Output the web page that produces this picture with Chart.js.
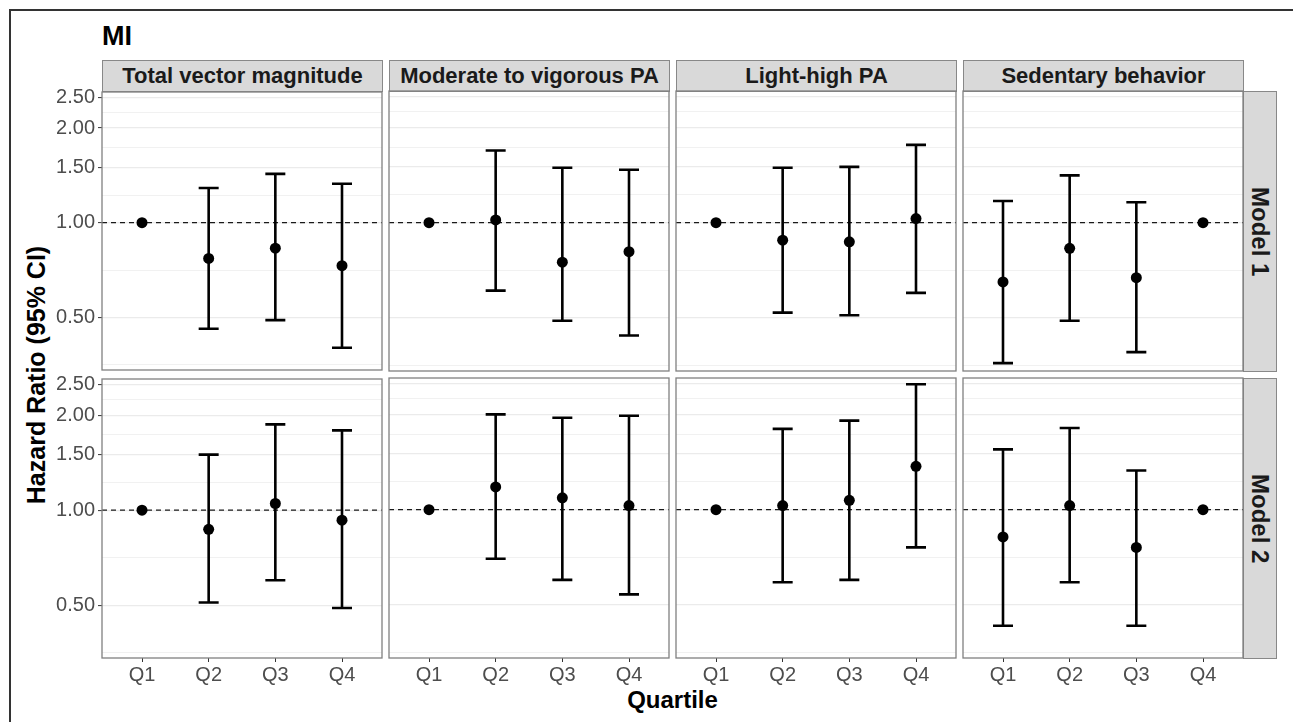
<!DOCTYPE html>
<html>
<head>
<meta charset="utf-8">
<script src="https://cdn.jsdelivr.net/npm/chart.js@4.4.0/dist/chart.umd.min.js"></script>
<style>
body { margin: 0; background: #fff; }
#wrap { position: relative; width: 1293px; height: 722px; overflow: hidden; font-family: "Liberation Sans", Arial, sans-serif; }
.frame { position: absolute; left: 9px; top: 9px; width: 1400px; height: 900px; border-left: 2px solid #333; border-top: 2px solid #333; }
.strip { position: absolute; box-sizing: border-box; background: #d9d9d9; border: 1px solid #888; color: #1a1a1a; font-weight: bold; font-size: 22px; display: flex; align-items: center; justify-content: center; white-space: nowrap; }
.vstrip { writing-mode: vertical-rl; font-size: 24px; }
.title { position: absolute; font-weight: bold; color: #000; white-space: nowrap; }
canvas { position: absolute; }
</style>
</head>
<body>
<div id="wrap">
  <div class="frame"></div>
  <div class="title" style="left:102px;top:21px;font-size:27px;">MI</div>
  <div class="title" id="ytitle" style="font-size:25px;">Hazard Ratio (95% CI)</div>
  <div class="title" id="xtitle" style="font-size:24px;">Quartile</div>
</div>
<script>
// facets
const exposures = ['Total vector magnitude', 'Moderate to vigorous PA', 'Light-high PA', 'Sedentary behavior'];
const models = ['Model 1', 'Model 2'];
const quartiles = ['Q1', 'Q2', 'Q3', 'Q4'];
const yBreaks = [0.50, 1.00, 1.50, 2.00, 2.50];

// Model 1 (HR, lower CI, upper CI) - reference quartile has no CI
const m1TvmHr  = [1.00, 0.77, 0.83, 0.73];
const m1TvmLo  = [null, 0.46, 0.49, 0.40];
const m1TvmHi  = [null, 1.29, 1.43, 1.33];
const m1MvpaHr = [1.00, 1.02, 0.75, 0.81];
const m1MvpaLo = [null, 0.61, 0.49, 0.44];
const m1MvpaHi = [null, 1.69, 1.49, 1.47];
const m1LhpaHr = [1.00, 0.88, 0.87, 1.03];
const m1LhpaLo = [null, 0.52, 0.51, 0.60];
const m1LhpaHi = [null, 1.49, 1.50, 1.76];
const m1SbHr   = [0.65, 0.83, 0.67, 1.00];
const m1SbLo   = [0.36, 0.49, 0.39, null];
const m1SbHi   = [1.17, 1.41, 1.16, null];

// Model 2
const m2TvmHr  = [1.00, 0.87, 1.05, 0.93];
const m2TvmLo  = [null, 0.51, 0.60, 0.49];
const m2TvmHi  = [null, 1.50, 1.87, 1.79];
const m2MvpaHr = [1.00, 1.18, 1.09, 1.03];
const m2MvpaLo = [null, 0.70, 0.60, 0.54];
const m2MvpaHi = [null, 2.00, 1.95, 1.98];
const m2LhpaHr = [1.00, 1.03, 1.07, 1.37];
const m2LhpaLo = [null, 0.59, 0.60, 0.76];
const m2LhpaHi = [null, 1.80, 1.91, 2.49];
const m2SbHr   = [0.82, 1.03, 0.76, 1.00];
const m2SbLo   = [0.43, 0.59, 0.43, null];
const m2SbHi   = [1.55, 1.81, 1.33, null];

const panels = [
  [[m1TvmHr, m1TvmLo, m1TvmHi], [m1MvpaHr, m1MvpaLo, m1MvpaHi], [m1LhpaHr, m1LhpaLo, m1LhpaHi], [m1SbHr, m1SbLo, m1SbHi]],
  [[m2TvmHr, m2TvmLo, m2TvmHi], [m2MvpaHr, m2MvpaLo, m2MvpaHi], [m2LhpaHr, m2LhpaLo, m2LhpaHi], [m2SbHr, m2SbLo, m2SbHi]]
];

// layout
const colX = [102, 389, 676, 963];
const rowY = [91, 378];
const panelW = 280, panelH = 280;
const PAD = 14;
const FONT = "'Liberation Sans', Arial, sans-serif";

// minor grid lines sit halfway (on the log scale) between the breaks
const yMinor = [0.25].concat(yBreaks).slice(0, -1).map((b, i) => Math.sqrt(b * yBreaks[i]));
const yGrid = yMinor.concat(yBreaks).sort((a, b) => a - b);
const isBreak = v => yBreaks.some(b => Math.abs(b - v) < 1e-6);

const wrap = document.getElementById('wrap');

// strips
exposures.forEach((name, c) => {
  const d = document.createElement('div');
  d.className = 'strip';
  d.style.cssText = `left:${colX[c]}px;top:60px;width:${panelW + 1}px;height:32px;`;
  d.textContent = name;
  wrap.appendChild(d);
});
models.forEach((name, r) => {
  const d = document.createElement('div');
  d.className = 'strip vstrip';
  d.style.cssText = `left:1243px;top:${rowY[r]}px;width:34px;height:${panelH + 1}px;`;
  d.textContent = name;
  wrap.appendChild(d);
});

const yt = document.getElementById('ytitle');
yt.style.left = '36px';
yt.style.top = (rowY[0] + (rowY[1] + panelH - rowY[0]) / 2) + 'px';
yt.style.transform = 'translate(-50%, -50%) rotate(-90deg)';
const xt = document.getElementById('xtitle');
xt.style.left = (colX[0] + (colX[3] + panelW - colX[0]) / 2) + 'px';
xt.style.top = '700px';
xt.style.transform = 'translate(-50%, -50%)';

// error bars, the dashed HR = 1 line and the panel border
const errorBars = {
  id: 'errorBars',
  beforeDatasetsDraw(chart, args, opts) {
    const { ctx, chartArea: a, scales: { x, y } } = chart;
    ctx.save();
    const y1 = y.getPixelForValue(1);
    ctx.setLineDash([5, 4]);
    ctx.lineWidth = 1.2;
    ctx.strokeStyle = '#1a1a1a';
    ctx.beginPath();
    ctx.moveTo(a.left, y1);
    ctx.lineTo(a.right, y1);
    ctx.stroke();
    ctx.setLineDash([]);
    ctx.lineWidth = 2.6;
    ctx.strokeStyle = '#000';
    opts.lo.forEach((lo, i) => {
      const hi = opts.hi[i];
      if (lo == null || hi == null) return;
      const px = x.getPixelForValue(i + 1);
      const half = (x.getPixelForValue(i + 1.15) - x.getPixelForValue(i + 0.85)) / 2;
      const yl = y.getPixelForValue(lo), yh = y.getPixelForValue(hi);
      ctx.beginPath();
      ctx.moveTo(px, yl); ctx.lineTo(px, yh);
      ctx.moveTo(px - half, yl); ctx.lineTo(px + half, yl);
      ctx.moveTo(px - half, yh); ctx.lineTo(px + half, yh);
      ctx.stroke();
    });
    ctx.restore();
  },
  afterDraw(chart) {
    const { ctx, chartArea: a } = chart;
    ctx.save();
    ctx.strokeStyle = '#808080';
    ctx.lineWidth = 1.3;
    ctx.strokeRect(a.left, a.top, a.width, a.height);
    ctx.restore();
  }
};

function makePanel(r, c) {
  const [hr, lo, hi] = panels[r][c];
  const left = c === 0, bottom = r === panels.length - 1;
  const axisW = left ? 62 : 0, axisH = bottom ? 30 : 0;
  const w = axisW + panelW + 2 * PAD, h = panelH + axisH + 2 * PAD;
  const cv = document.createElement('canvas');
  cv.width = w; cv.height = h;
  cv.style.width = w + 'px'; cv.style.height = h + 'px';
  cv.style.left = (colX[c] - axisW - PAD) + 'px';
  cv.style.top = (rowY[r] - PAD) + 'px';
  wrap.appendChild(cv);

  new Chart(cv.getContext('2d'), {
    type: 'scatter',
    data: {
      datasets: [{
        data: hr.map((v, i) => ({ x: i + 1, y: v })),
        pointRadius: 5.5,
        pointHoverRadius: 5.5,
        backgroundColor: '#000',
        borderWidth: 0
      }]
    },
    options: {
      responsive: false,
      animation: false,
      events: [],
      layout: { padding: PAD },
      plugins: {
        legend: { display: false },
        tooltip: { enabled: false },
        errorBars: { lo: lo, hi: hi }
      },
      scales: {
        x: {
          type: 'linear',
          min: 0.4,
          max: 4.6,
          bounds: 'data',
          display: bottom,
          afterBuildTicks: s => { s.ticks = quartiles.map((q, i) => ({ value: i + 1 })); },
          afterFit: s => { s.height = axisH; },
          ticks: {
            callback: v => quartiles[Math.round(v) - 1],
            color: '#4d4d4d',
            font: { family: FONT, size: 20 },
            padding: 1,
            maxRotation: 0,
            autoSkip: false
          },
          grid: { drawOnChartArea: false, tickLength: 4, tickColor: '#333', tickWidth: 1 },
          border: { display: false }
        },
        y: {
          type: 'logarithmic',
          min: 0.34,
          max: 2.605,
          bounds: 'data',   // keep the exact limits, don't snap to generated ticks
          afterBuildTicks: s => { s.ticks = yGrid.map(v => ({ value: v })); },
          afterFit: s => { s.width = axisW; },
          ticks: {
            display: left,
            callback: v => isBreak(v) ? v.toFixed(2) : '',
            color: '#4d4d4d',
            font: { family: FONT, size: 20 },
            padding: 3,
            autoSkip: false
          },
          grid: {
            color: '#ebebeb',
            lineWidth: ctx => isBreak(ctx.tick.value) ? 1.2 : 0.7,
            drawTicks: left,
            tickLength: 4,
            tickColor: ctx => isBreak(ctx.tick.value) ? '#333' : 'rgba(0,0,0,0)',
            tickWidth: 1
          },
          border: { display: false }
        }
      }
    },
    plugins: [errorBars]
  });
}

for (let r = 0; r < panels.length; r++) {
  for (let c = 0; c < exposures.length; c++) makePanel(r, c);
}
</script>
</body>
</html>
